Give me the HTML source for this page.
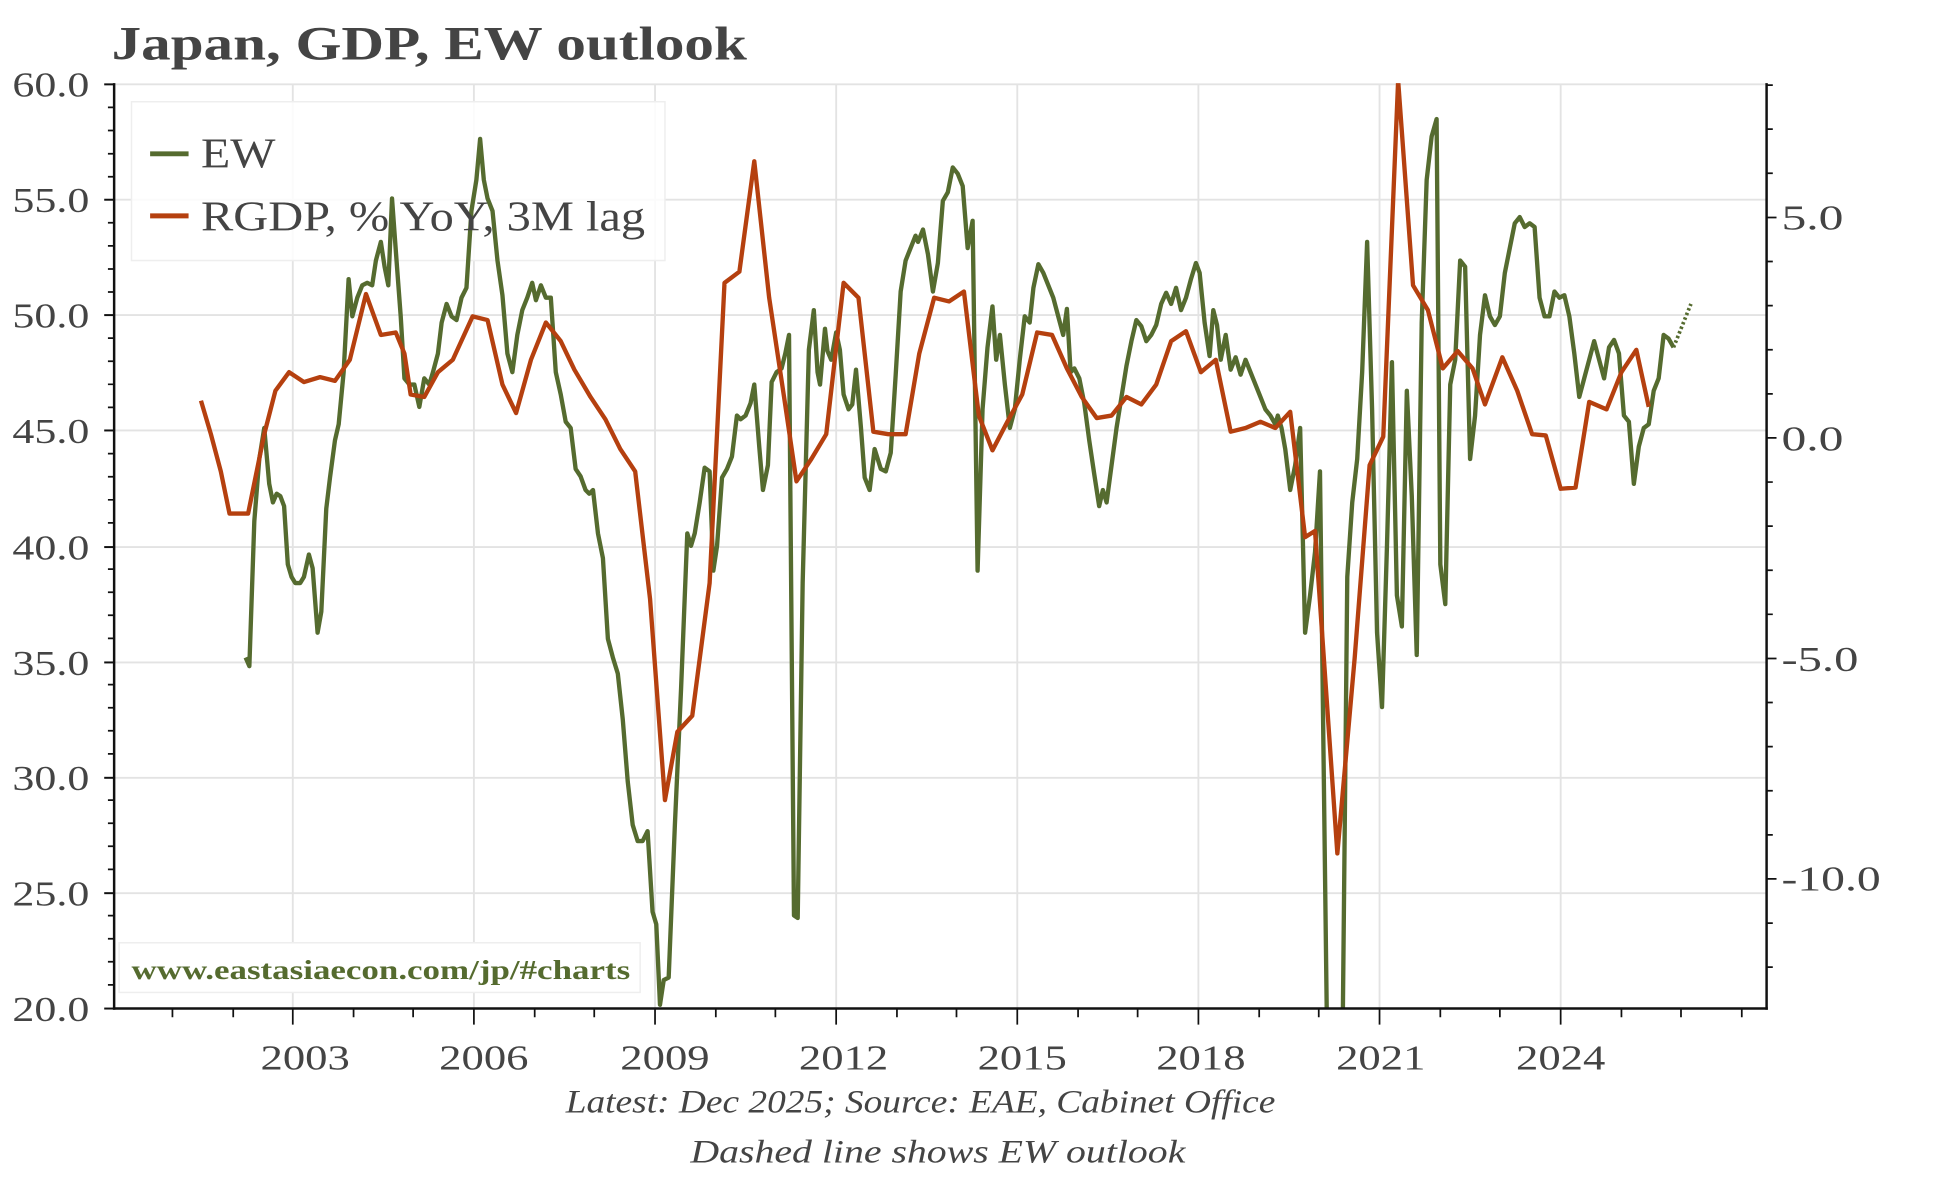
<!DOCTYPE html>
<html><head><meta charset="utf-8"><style>
html,body{margin:0;padding:0;background:#fff;}
svg{display:block;}
text{font-family:"Liberation Serif",serif;fill:#444;}
</style></head><body>
<svg width="1944" height="1178" viewBox="0 0 1567 949.6" preserveAspectRatio="none" xmlns="http://www.w3.org/2000/svg">
<defs><clipPath id="c"><rect x="92" y="67" width="1332" height="746"/></clipPath></defs>
<rect width="1567" height="949.6" fill="#fff"/>
<text x="90" y="48" font-size="38" font-weight="bold" textLength="512" lengthAdjust="spacingAndGlyphs">Japan, GDP, EW outlook</text>
<g stroke="#e3e3e3" stroke-width="1.5">
<line x1="92" x2="1424" y1="68" y2="68"/><line x1="92" x2="1424" y1="161" y2="161"/><line x1="92" x2="1424" y1="254" y2="254"/><line x1="92" x2="1424" y1="347" y2="347"/><line x1="92" x2="1424" y1="441" y2="441"/><line x1="92" x2="1424" y1="534" y2="534"/><line x1="92" x2="1424" y1="627" y2="627"/><line x1="92" x2="1424" y1="720" y2="720"/>
<line x1="236" x2="236" y1="68" y2="813"/><line x1="382" x2="382" y1="68" y2="813"/><line x1="528" x2="528" y1="68" y2="813"/><line x1="674" x2="674" y1="68" y2="813"/><line x1="820" x2="820" y1="68" y2="813"/><line x1="966" x2="966" y1="68" y2="813"/><line x1="1112" x2="1112" y1="68" y2="813"/><line x1="1258" x2="1258" y1="68" y2="813"/>
</g>
<rect x="106" y="82" width="430" height="128" fill="#fff" fill-opacity="0.85" stroke="#eee" stroke-width="1.2"/>
<g clip-path="url(#c)" fill="none" stroke-linejoin="round">
<polyline stroke="#556b2f" stroke-width="3.5" points="198,530 201,537 205,420 209,370 213,345 217,390 220,405 223,398 226,400 229,408 232,455 235,465 238,470 242,470 245,465 249,447 252,458 256,510 259,493 263,410 266,385 270,355 273,342 277,300 281,225 284,255 288,240 292,230 296,228 300,230 303,210 307,195 310,215 313,230 316,160 320,215 323,255 326,305 330,310 334,310 338,328 342,305 346,310 349,300 353,285 356,260 360,245 364,255 368,258 372,240 376,232 380,170 384,145 387,112 390,145 393,160 397,170 401,210 405,238 409,285 413,300 417,270 421,250 425,240 429,228 432,242 436,230 440,240 444,240 448,300 452,318 456,340 460,345 464,378 468,384 472,395 475,398 478,395 482,430 486,450 490,515 494,530 498,543 502,580 506,630 510,665 514,678 518,678 522,670 526,735 529,745 532,810 535,790 539,788 544,665 549,555 554,430 557,440 560,430 564,405 568,377 572,380 575,460 578,440 582,385 586,378 590,368 594,335 597,338 601,335 605,325 608,310 612,360 615,395 619,375 622,308 626,300 630,297 633,285 636,270 640,738 643,740 647,470 652,282 656,250 659,300 661,310 665,265 667,283 670,290 674,268 677,282 680,318 684,330 687,326 690,298 694,345 697,385 701,395 705,362 710,378 714,380 718,365 722,302 726,235 730,210 734,200 738,190 740,195 744,185 748,205 752,235 756,212 760,162 764,155 768,135 772,140 776,150 780,200 784,178 788,460 792,330 796,280 800,247 803,290 806,270 810,310 814,345 818,330 822,290 826,255 830,260 833,232 837,213 841,220 845,230 849,240 853,255 857,270 860,249 863,300 866,297 870,305 874,325 878,355 882,382 886,408 889,395 892,405 896,375 900,345 904,320 908,295 912,275 916,258 920,263 924,275 928,270 932,262 936,245 940,236 944,245 948,232 952,250 956,240 960,225 964,212 967,220 971,260 975,287 978,250 981,262 984,290 988,270 992,298 996,288 1000,302 1004,290 1008,300 1012,310 1016,320 1020,330 1024,335 1028,342 1030,335 1033,345 1036,362 1040,395 1044,375 1048,345 1052,510 1056,480 1060,445 1064,380 1070,860 1082,860 1086,465 1090,405 1094,370 1098,300 1102,195 1106,330 1110,510 1114,570 1118,440 1122,292 1126,480 1130,505 1134,315 1138,400 1142,528 1146,260 1150,145 1154,110 1158,96 1161,455 1165,487 1169,310 1173,290 1177,210 1181,215 1185,370 1189,335 1193,270 1197,238 1201,255 1205,262 1209,255 1213,220 1217,200 1221,180 1225,175 1229,183 1233,180 1237,183 1241,240 1245,255 1249,255 1253,235 1257,240 1261,238 1265,255 1269,285 1273,320 1277,305 1281,290 1285,275 1289,290 1293,305 1297,280 1301,274 1305,285 1309,335 1313,340 1317,390 1321,360 1325,345 1329,342 1333,315 1337,305 1341,270 1345,273 1349,280"/>
<polyline stroke="#556b2f" stroke-width="3" stroke-dasharray="2,2" points="1349,280 1363,245"/>
<polyline stroke="#b5400f" stroke-width="3.5" points="162,323 170,350 178,380 185,414 195,414 200,414 213,350 222,315 233,300 245,308 258,304 270,307 282,290 295,237 307,270 319,268 326,285 331,318 342,320 353,300 365,290 381,255 393,258 405,310 416,333 428,290 440,260 452,275 463,298 476,320 488,338 500,362 512,380 524,483 536,645 546,590 558,577 572,470 584,228 596,219 608,130 620,240 632,320 642,388 654,370 666,350 680,228 692,240 704,348 716,350 730,350 741,285 753,240 765,243 777,235 789,335 800,363 812,340 824,318 836,268 848,270 860,297 872,320 884,337 896,335 908,320 920,326 932,310 944,275 956,267 968,300 980,290 992,348 1004,345 1016,340 1028,345 1040,332 1052,433 1060,428 1078,688 1092,530 1104,375 1115,352 1127,65 1139,230 1151,250 1163,297 1175,283 1187,297 1197,326 1211,288 1223,315 1235,350 1246,351 1258,394 1270,393 1281,324 1295,330 1307,300 1319,282 1329,328"/>
</g>
<g stroke="#111" stroke-width="2" fill="none">
<line x1="92" y1="67" x2="92" y2="814"/>
<line x1="1424" y1="67" x2="1424" y2="814"/>
<line x1="91" y1="813" x2="1425" y2="813"/>
</g>
<g stroke="#111" stroke-width="1.6">
<line x1="84" x2="92" y1="68" y2="68"/><line x1="84" x2="92" y1="161" y2="161"/><line x1="84" x2="92" y1="254" y2="254"/><line x1="84" x2="92" y1="347" y2="347"/><line x1="84" x2="92" y1="441" y2="441"/><line x1="84" x2="92" y1="534" y2="534"/><line x1="84" x2="92" y1="627" y2="627"/><line x1="84" x2="92" y1="720" y2="720"/><line x1="84" x2="92" y1="813" y2="813"/>
</g>
<g stroke="#111" stroke-width="1.4">
<path d="M87 86.6H92M87 105.2H92M87 123.9H92M87 142.5H92M87 179.6H92M87 198.2H92M87 216.8H92M87 235.4H92M87 272.6H92M87 291.2H92M87 309.8H92M87 328.4H92M87 365.7H92M87 384.3H92M87 402.9H92M87 421.5H92M87 458.8H92M87 477.4H92M87 496H92M87 514.6H92M87 551.9H92M87 570.5H92M87 589.1H92M87 607.7H92M87 645H92M87 663.6H92M87 682.2H92M87 700.8H92M87 738.1H92M87 756.7H92M87 775.3H92M87 793.9H92"/>
<path d="M1424 175.3H1432M1424 353H1432M1424 530.8H1432M1424 708.5H1432"/>
<path d="M1424 68.6H1429M1424 104.1H1429M1424 139.7H1429M1424 210.8H1429M1424 246.4H1429M1424 281.9H1429M1424 317.5H1429M1424 388.6H1429M1424 424.1H1429M1424 459.7H1429M1424 495.2H1429M1424 566.3H1429M1424 601.9H1429M1424 637.4H1429M1424 673H1429M1424 744.1H1429M1424 779.6H1429"/>
<path d="M236 813V826M382 813V826M528 813V826M674 813V826M820 813V826M966 813V826M1112 813V826M1258 813V826"/>
<path d="M139 813V820M188 813V820M285 813V820M333 813V820M431 813V820M479 813V820M577 813V820M625 813V820M723 813V820M771 813V820M869 813V820M917 813V820M1015 813V820M1063 813V820M1161 813V820M1209 813V820M1307 813V820M1355 813V820M1404 813V820"/>
</g>
<g font-size="28" text-anchor="end">
<text x="72" y="78" textLength="62" lengthAdjust="spacingAndGlyphs">60.0</text><text x="72" y="171" textLength="62" lengthAdjust="spacingAndGlyphs">55.0</text><text x="72" y="264" textLength="62" lengthAdjust="spacingAndGlyphs">50.0</text><text x="72" y="357" textLength="62" lengthAdjust="spacingAndGlyphs">45.0</text><text x="72" y="451" textLength="62" lengthAdjust="spacingAndGlyphs">40.0</text><text x="72" y="544" textLength="62" lengthAdjust="spacingAndGlyphs">35.0</text><text x="72" y="637" textLength="62" lengthAdjust="spacingAndGlyphs">30.0</text><text x="72" y="730" textLength="62" lengthAdjust="spacingAndGlyphs">25.0</text><text x="72" y="823" textLength="62" lengthAdjust="spacingAndGlyphs">20.0</text>
</g>
<g font-size="28">
<text x="1436" y="185" textLength="50" lengthAdjust="spacingAndGlyphs">5.0</text><text x="1436" y="363" textLength="50" lengthAdjust="spacingAndGlyphs">0.0</text><text x="1436" y="541" textLength="62" lengthAdjust="spacingAndGlyphs">-5.0</text><text x="1436" y="718" textLength="80" lengthAdjust="spacingAndGlyphs">-10.0</text>
</g>
<g font-size="28" text-anchor="middle">
<text x="246" y="862" textLength="72" lengthAdjust="spacingAndGlyphs">2003</text><text x="390" y="862" textLength="72" lengthAdjust="spacingAndGlyphs">2006</text><text x="536" y="862" textLength="72" lengthAdjust="spacingAndGlyphs">2009</text><text x="680" y="862" textLength="72" lengthAdjust="spacingAndGlyphs">2012</text><text x="824" y="862" textLength="72" lengthAdjust="spacingAndGlyphs">2015</text><text x="968" y="862" textLength="72" lengthAdjust="spacingAndGlyphs">2018</text><text x="1113" y="862" textLength="72" lengthAdjust="spacingAndGlyphs">2021</text><text x="1258" y="862" textLength="72" lengthAdjust="spacingAndGlyphs">2024</text>
</g>
<g font-size="26" font-style="italic" text-anchor="middle">
<text x="742" y="897" textLength="572" lengthAdjust="spacingAndGlyphs">Latest: Dec 2025; Source: EAE, Cabinet Office</text>
<text x="756" y="937" textLength="399" lengthAdjust="spacingAndGlyphs">Dashed line shows EW outlook</text>
</g>
<line x1="121" x2="152" y1="124" y2="124" stroke="#556b2f" stroke-width="4"/>
<text x="162" y="135" font-size="34" textLength="60" lengthAdjust="spacingAndGlyphs">EW</text>
<line x1="121" x2="152" y1="174" y2="174" stroke="#b5400f" stroke-width="4"/>
<text x="162" y="186" font-size="34" textLength="358" lengthAdjust="spacingAndGlyphs">RGDP, % YoY, 3M lag</text>
<rect x="96" y="760" width="420" height="40" fill="#fff" stroke="#eee" stroke-width="1.2"/>
<text x="106" y="789" font-size="22" font-weight="bold" textLength="402" lengthAdjust="spacingAndGlyphs" style="fill:#556b2f">www.eastasiaecon.com/jp/#charts</text>
</svg>
</body></html>
